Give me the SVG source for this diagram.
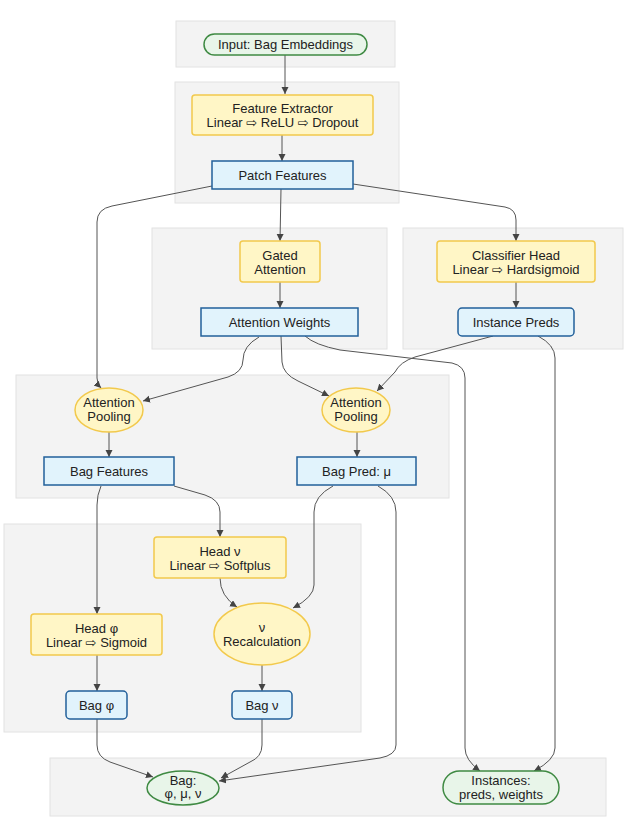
<svg xmlns="http://www.w3.org/2000/svg" width="630" height="840" viewBox="0 0 630 840">
<defs>
<style>
.cl{fill:#f3f3f3;stroke:#e2e2e2;stroke-width:1}
.y{fill:#fff6c6;stroke:#f2c94c;stroke-width:1.5}
.b{fill:#e1f3fc;stroke:#22609a;stroke-width:1.5}
.g{fill:#e8f5e9;stroke:#3f8a43;stroke-width:1.5}
text{font-family:"Liberation Sans",Arial,"DejaVu Sans",sans-serif;font-size:13px;fill:#222;text-anchor:middle}
.e{fill:none;stroke:#555;stroke-width:1;marker-end:url(#ah)}
</style>
<marker id="ah" markerUnits="userSpaceOnUse" markerWidth="8" markerHeight="8" refX="7" refY="3.5" orient="auto">
<path d="M0,0 L7,3.5 L0,7 z" fill="#444"/>
</marker>
</defs>
<g id="clusters">
<rect class="cl" x="176" y="21" width="219" height="46"/>
<rect class="cl" x="175" y="82" width="224" height="121"/>
<rect class="cl" x="152" y="228" width="235" height="121"/>
<rect class="cl" x="403" y="228" width="220" height="121"/>
<rect class="cl" x="16" y="375" width="433" height="123"/>
<rect class="cl" x="4" y="524" width="357" height="208"/>
<rect class="cl" x="50" y="758" width="556" height="58"/>
</g>
<g id="connectors">
<path class="e" d="M285,55 L285,94"/>
<path class="e" d="M282,135 L282,161"/>
<path class="e" d="M281,189 L280,241"/>
<path class="e" d="M353,184 L505,207 Q516,209 516,220 L516,241"/>
<path class="e" d="M212,186 L112,206 Q97,209 97,222 L97,378 Q97,384 101,388"/>
<path class="e" d="M280,282 L280,308"/>
<path class="e" d="M516,282 L516,308"/>
<path class="e" d="M259,337 Q243,346 243,360 Q243,372 228,377 L143,401"/>
<path class="e" d="M281,336 L282,362 Q283,374 298,381 L329,396"/>
<path class="e" d="M493,336 L415,357 Q400,362 395,372 L377,391"/>
<path class="e" d="M305,336 Q315,345 340,350 L452,363 Q465,366 465,378 L465,748 Q465,760 480,771"/>
<path class="e" d="M538,336 Q555,345 555,358 L555,748 Q555,760 534,771"/>
<path class="e" d="M109,432 L109,457"/>
<path class="e" d="M357,432 L357,457"/>
<path class="e" d="M101,486 Q97,495 97,505 L97,614"/>
<path class="e" d="M174,486 L205,495 Q220,500 220,512 L220,537"/>
<path class="e" d="M333,486 Q314,496 314,512 L314,585 Q314,597 293,608"/>
<path class="e" d="M378,486 Q396,496 396,512 L396,745 Q396,755 380,758 L219,781"/>
<path class="e" d="M220,578 Q220,596 237,607"/>
<path class="e" d="M262,665 L262,691"/>
<path class="e" d="M97,655 L97,691"/>
<path class="e" d="M97,719 L97,745 Q97,757 110,762 L153,777"/>
<path class="e" d="M262,719 L262,745 Q262,757 250,762 L221,778"/>
</g>
<g id="input"><rect class="g" x="204" y="34" width="163" height="21" rx="10.5"/><text x="285.5" y="49">Input: Bag Embeddings</text></g>
<g id="feature_extractor"><rect class="y" x="192" y="95" width="181" height="40" rx="3"/><text x="282.5" y="112.5">Feature Extractor</text><text x="282.5" y="126.5">Linear ⇨ ReLU ⇨ Dropout</text></g>
<g id="patch_features"><rect class="b" x="212" y="161" width="141" height="28"/><text x="282.5" y="179.5">Patch Features</text></g>
<g id="gated_attention"><rect class="y" x="240" y="241" width="80" height="41" rx="3"/><text x="280" y="259.5">Gated</text><text x="280" y="273.5">Attention</text></g>
<g id="attention_weights"><rect class="b" x="201" y="308" width="157" height="28"/><text x="279.5" y="326.5">Attention Weights</text></g>
<g id="classifier_head"><rect class="y" x="437" y="241" width="158" height="41" rx="3"/><text x="516" y="259.5">Classifier Head</text><text x="516" y="273.5">Linear ⇨ Hardsigmoid</text></g>
<g id="instance_preds"><rect class="b" x="458" y="308" width="116" height="28" rx="4"/><text x="516" y="326.5">Instance Preds</text></g>
<g id="att_pool_bag"><ellipse class="y" cx="109" cy="410" rx="34" ry="22"/><text x="109" y="406.5">Attention</text><text x="109" y="420.5">Pooling</text></g>
<g id="att_pool_pred"><ellipse class="y" cx="356" cy="410" rx="34" ry="22"/><text x="356" y="406.5">Attention</text><text x="356" y="420.5">Pooling</text></g>
<g id="bag_features"><rect class="b" x="44" y="457" width="130" height="28"/><text x="109" y="475.5">Bag Features</text></g>
<g id="bag_pred"><rect class="b" x="297" y="457" width="119" height="28"/><text x="356.5" y="475.5">Bag Pred: μ</text></g>
<g id="head_nu"><rect class="y" x="154" y="537" width="132" height="41" rx="3"/><text x="220" y="555.5">Head ν</text><text x="220" y="569.5">Linear ⇨ Softplus</text></g>
<g id="head_phi"><rect class="y" x="31" y="614" width="131" height="41" rx="3"/><text x="96.5" y="632.5">Head φ</text><text x="96.5" y="646.5">Linear ⇨ Sigmoid</text></g>
<g id="nu_recalc"><ellipse class="y" cx="262" cy="634" rx="48" ry="31"/><text x="262" y="632">ν</text><text x="262" y="646">Recalculation</text></g>
<g id="bag_phi"><rect class="b" x="66" y="691" width="61" height="28" rx="4"/><text x="96.5" y="709.5">Bag φ</text></g>
<g id="bag_nu"><rect class="b" x="232" y="691" width="60" height="28" rx="4"/><text x="262" y="709.5">Bag ν</text></g>
<g id="bag_out"><ellipse class="g" cx="183" cy="788" rx="36" ry="17"/><text x="183" y="784.5">Bag:</text><text x="183" y="798">φ, μ, ν</text></g>
<g id="instances_out"><rect class="g" x="443" y="771" width="116" height="33" rx="16.5"/><text x="501" y="784.5">Instances:</text><text x="501" y="798.5">preds, weights</text></g>
</svg>
